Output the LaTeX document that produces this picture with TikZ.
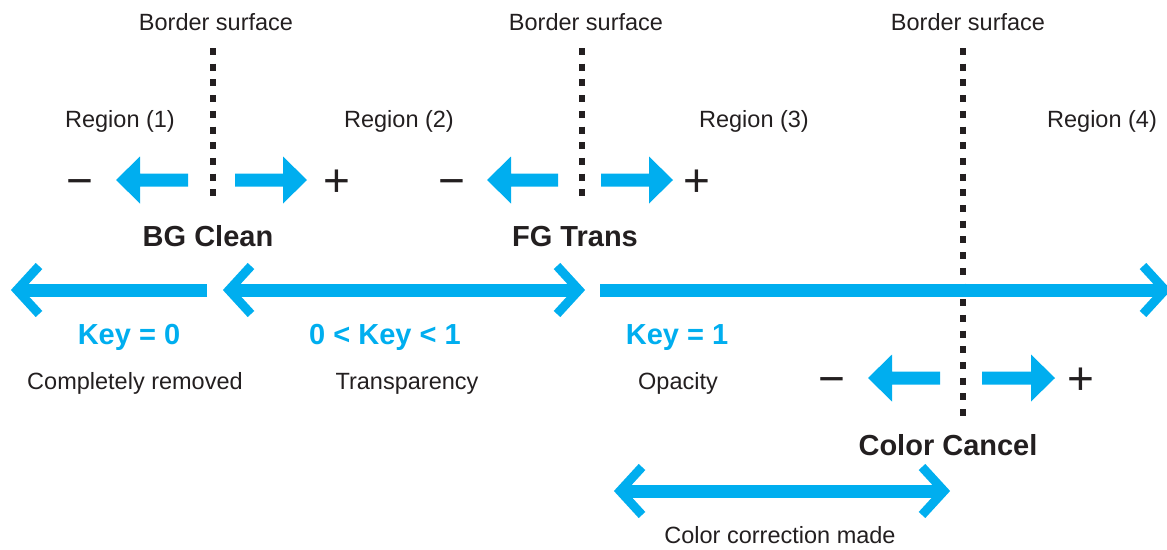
\documentclass[tikz,border=0pt]{standalone}
\usepackage{fontspec}
\setmainfont{Liberation Sans}
\definecolor{kblue}{HTML}{00AEEF}
\definecolor{ink}{HTML}{231F20}
\tikzset{
  reg/.style={anchor=base, inner sep=0pt, text=ink, font=\fontsize{23.5}{28}\selectfont},
  bld/.style={anchor=base, inner sep=0pt, text=ink, font=\fontsize{29}{34}\selectfont\bfseries},
  keyl/.style={anchor=base, inner sep=0pt, text=kblue, font=\fontsize{29}{34}\selectfont\bfseries},
  sgn/.style={anchor=base, inner sep=0pt, text=ink, font=\fontsize{46}{50}\selectfont},
  border/.style={ink, line width=5.5pt, dash pattern=on 7pt off 8.7pt},
  shaft/.style={kblue, line width=13pt},
  chev/.style={kblue, line width=9pt, line join=miter, line cap=butt},
}
\newcommand\fatarr[3]{% tail x, tip x, y
  \pgfmathsetmacro\fb{#2-24*sign(#2-#1)}
  \fill[kblue] (#1,#3-6.5) -- (\fb,#3-6.5) -- (\fb,#3-23.5) -- (#2,#3)
     -- (\fb,#3+23.5) -- (\fb,#3+6.5) -- (#1,#3+6.5) -- cycle;}
\newcommand\bigarr[3]{% tail x, tip x, y
  \pgfmathsetmacro\dd{sign(#2-#1)}
  \draw[shaft] (#1,#3) -- ({#2-10*\dd},#3);
  \draw[chev] ({#2-29*\dd},#3-24) -- ({#2-7*\dd},#3) -- ({#2-29*\dd},#3+24);}
\begin{document}
\begin{tikzpicture}[x=1pt,y=-1pt]
\useasboundingbox (0,0) rectangle (1167,549);
% border surfaces
\node[reg] (b1) at (216,30) {Border surface};
\node[reg] (b2) at (586,30) {Border surface};
\node[reg] (b3) at (968,30) {Border surface};
\coordinate (d1t) at (213,48); \coordinate (d1b) at (213,200);
\coordinate (d2t) at (582,48); \coordinate (d2b) at (582,200);
\coordinate (d3t) at (963,48); \coordinate (d3b) at (963,422);
\draw[border] (d1t) -- (d1b);
\draw[border] (d2t) -- (d2b);
\draw[border] (d3t) -- (d3b);
% regions
\node[reg] (r1) at (120,127) {Region (1)};
\node[reg] (r2) at (399,127) {Region (2)};
\node[reg] (r3) at (754,127) {Region (3)};
\node[reg] (r4) at (1102,127) {Region (4)};
% small arrows row
\fatarr{188}{116}{180}
\fatarr{235}{307}{180}
\fatarr{558}{487}{180}
\fatarr{601}{673}{180}
\fatarr{940}{868}{378}
\fatarr{982}{1055}{378}
\node[sgn] (m1) at (80,196.5) {−};
\node[sgn] (p1) at (337,196.5) {+};
\node[sgn] (m2) at (452,196.5) {−};
\node[sgn] (p2) at (697,196.5) {+};
\node[sgn] (m3) at (832,394.5) {−};
\node[sgn] (p3) at (1081,394.5) {+};
% bold labels
\node[bld] (bg) at (208,246) {BG Clean};
\node[bld] (fg) at (575,246) {FG Trans};
\node[bld] (cc) at (948,455) {Color Cancel};
% big arrows
\bigarr{207}{10}{290}
\draw[shaft] (232,290) -- (576,290);
\draw[chev] (251,266) -- (229,290) -- (251,314);
\draw[chev] (557,266) -- (579,290) -- (557,314);
\bigarr{600}{1172}{290}
\draw[shaft] (623,491) -- (941,491);
\draw[chev] (642,467) -- (620,491) -- (642,515);
\draw[chev] (922,467) -- (944,491) -- (922,515);
% key labels
\node[keyl] (k0) at (129,344) {Key = 0};
\node[keyl] (k01) at (385,344) {0 < Key < 1};
\node[keyl] (k1) at (677,344) {Key = 1};
\node[reg] (t0) at (135,389) {Completely removed};
\node[reg] (t01) at (407,389) {Transparency};
\node[reg] (t1) at (678,389) {Opacity};
\node[reg] (ccm) at (780,543) {Color correction made};
\end{tikzpicture}
\end{document}
